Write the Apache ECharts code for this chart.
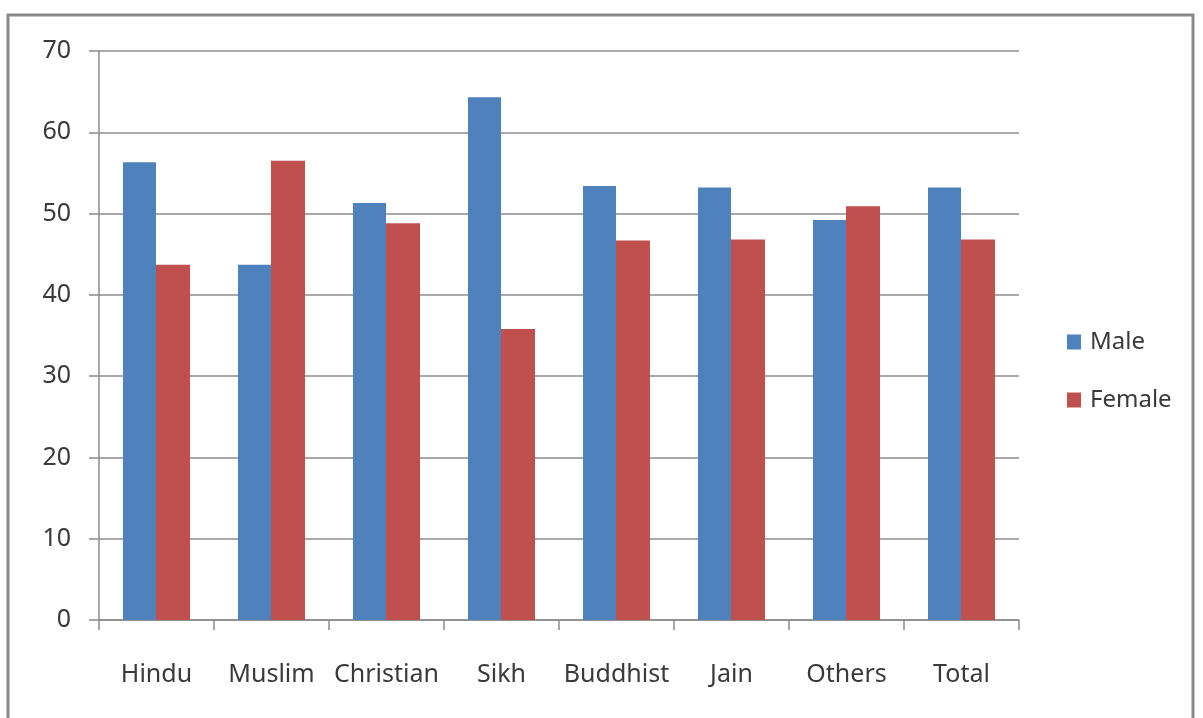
<!DOCTYPE html>
<html>
<head>
<meta charset="utf-8">
<script src="https://cdn.jsdelivr.net/npm/echarts@6/dist/echarts.min.js"></script>
<style>
  html, body { margin: 0; padding: 0; background: #fff; }
  #chart { width: 1203px; height: 718px; }
</style>
</head>
<body>
<div id="chart"></div>
<script>
var religions = ['Hindu', 'Muslim', 'Christian', 'Sikh', 'Buddhist', 'Jain', 'Others', 'Total'];
var maleData = [56.3, 43.7, 51.3, 64.3, 53.4, 53.2, 49.2, 53.2];
var femaleData = [43.7, 56.5, 48.8, 35.8, 46.7, 46.8, 50.9, 46.8];
var seriesNames = ['Male', 'Female'];

var chart = echarts.init(document.getElementById('chart'));
var textColor = '#3a3a3a';
var lineColor = '#8c8c8c';

var option = {
    animation: false,
    backgroundColor: '#fff',
    textStyle: { fontFamily: 'Noto Sans' },
    graphic: [{
        type: 'rect',
        z: -10,
        shape: { x: 8, y: 15, width: 1185, height: 720 },
        style: { fill: 'none', stroke: '#8a8a8a', lineWidth: 3 }
    }],
    grid: { left: 99, right: 184, top: 51, bottom: 98 },
    legend: {
        orient: 'vertical',
        left: 1067,
        top: 330,
        padding: 0,
        itemWidth: 14,
        itemHeight: 15,
        itemGap: 34,
        icon: 'rect',
        textStyle: { fontSize: 24, color: textColor, padding: [0, 0, 0, 4] },
        data: seriesNames
    },
    xAxis: {
        type: 'category',
        data: religions,
        axisLine: { show: true, lineStyle: { color: lineColor, width: 1.5 } },
        axisTick: { show: true, length: 10, lineStyle: { color: lineColor, width: 1.5 } },
        axisLabel: { fontSize: 25, color: textColor, margin: 42, interval: 0 }
    },
    yAxis: {
        type: 'value',
        min: 0,
        max: 70,
        interval: 10,
        axisLine: { show: true, lineStyle: { color: lineColor, width: 1.5 } },
        axisTick: { show: true, length: 10, lineStyle: { color: lineColor, width: 1.5 } },
        axisLabel: { fontSize: 25, color: textColor, margin: 28 },
        splitLine: { lineStyle: { color: lineColor, width: 1.5 } }
    },
    series: [{
        name: seriesNames[0],
        type: 'bar',
        data: maleData,
        barWidth: 33,
        barGap: '0%',
        itemStyle: { color: '#4f81bd' }
    }, {
        name: seriesNames[1],
        type: 'bar',
        data: femaleData,
        barWidth: 34,
        itemStyle: { color: '#c0504d' }
    }]
};

chart.setOption(option);
</script>
</body>
</html>
